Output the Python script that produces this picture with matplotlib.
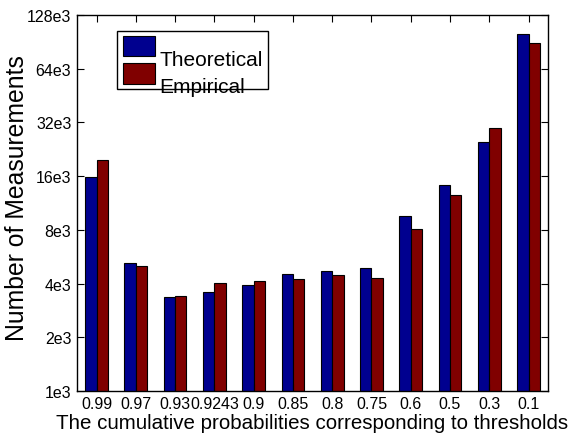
import matplotlib
matplotlib.use("Agg")
import matplotlib.pyplot as plt
import numpy as np
from matplotlib.patches import Rectangle

# cumulative probabilities used as thresholds
categories = ["0.99", "0.97", "0.93", "0.9243", "0.9", "0.85", "0.8", "0.75", "0.6", "0.5", "0.3", "0.1"]
theoretical = [15.8e3, 5.24e3, 3.38e3, 3.59e3, 3.93e3, 4.53e3, 4.69e3, 4.91e3, 9.6e3, 14.3e3, 24.9e3, 100e3]
empirical = [19.7e3, 5.02e3, 3.41e3, 4.01e3, 4.14e3, 4.26e3, 4.49e3, 4.30e3, 8.06e3, 12.5e3, 29.7e3, 89e3]
ytick_values = [1e3, 2e3, 4e3, 8e3, 16e3, 32e3, 64e3, 128e3]
ytick_labels = ["1e3", "2e3", "4e3", "8e3", "16e3", "32e3", "64e3", "128e3"]

BLUE = "#00008f"
RED = "#800000"

plt.rcParams["font.family"] = ["Liberation Sans", "DejaVu Sans"]

fig = plt.figure(figsize=(5.74, 4.35), dpi=100)
ax = fig.add_axes([0.134, 0.099, 0.821, 0.864])

x = np.arange(1, len(categories) + 1)
width = 0.29
ax.bar(x - width / 2, theoretical, width, color=BLUE, edgecolor="black", linewidth=0.8)
ax.bar(x + width / 2, empirical, width, color=RED, edgecolor="black", linewidth=0.8)

ax.set_yscale("log", base=2)
ax.set_ylim(1e3, 128e3)
ax.set_xlim(0.5, 12.5)
ax.set_yticks(ytick_values)
ax.set_yticklabels(ytick_labels)
ax.yaxis.set_minor_locator(matplotlib.ticker.NullLocator())
ax.set_xticks(x)
ax.set_xticklabels(categories)
ax.tick_params(direction="in", top=True, right=True, length=5, width=0.8, labelsize=11.5)
ax.tick_params(axis="x", pad=4)
ax.tick_params(axis="y", pad=4)
for s in ax.spines.values():
    s.set_linewidth(1.0)

ax.set_xlabel("The cumulative probabilities corresponding to thresholds", fontsize=14.8, labelpad=1)
ax.set_ylabel("Number of Measurements", fontsize=17.8)
ax.yaxis.set_label_coords(-0.102, 0.515)

# matlab style legend, text overflows the box
lx0, ly0 = 116.7 / 574, 1 - 90 / 435
lw, lh = 151 / 574, 58 / 435
fig.patches.append(Rectangle((lx0, ly0), lw, lh, transform=fig.transFigure,
                             facecolor="white", edgecolor="black", linewidth=1.0, zorder=5))
fig.patches.append(Rectangle((123 / 574, 1 - 57 / 435), 32 / 574, 20 / 435, transform=fig.transFigure,
                             facecolor=BLUE, edgecolor="black", linewidth=0.8, zorder=6))
fig.patches.append(Rectangle((123 / 574, 1 - 85 / 435), 32 / 574, 21 / 435, transform=fig.transFigure,
                             facecolor=RED, edgecolor="black", linewidth=0.8, zorder=6))
fig.text(159 / 574, 1 - 66 / 435, "Theoretical", fontsize=15, zorder=7, va="baseline")
fig.text(159 / 574, 1 - 93 / 435, "Empirical", fontsize=15, zorder=7, va="baseline")

fig.savefig("out.png", dpi=100)
